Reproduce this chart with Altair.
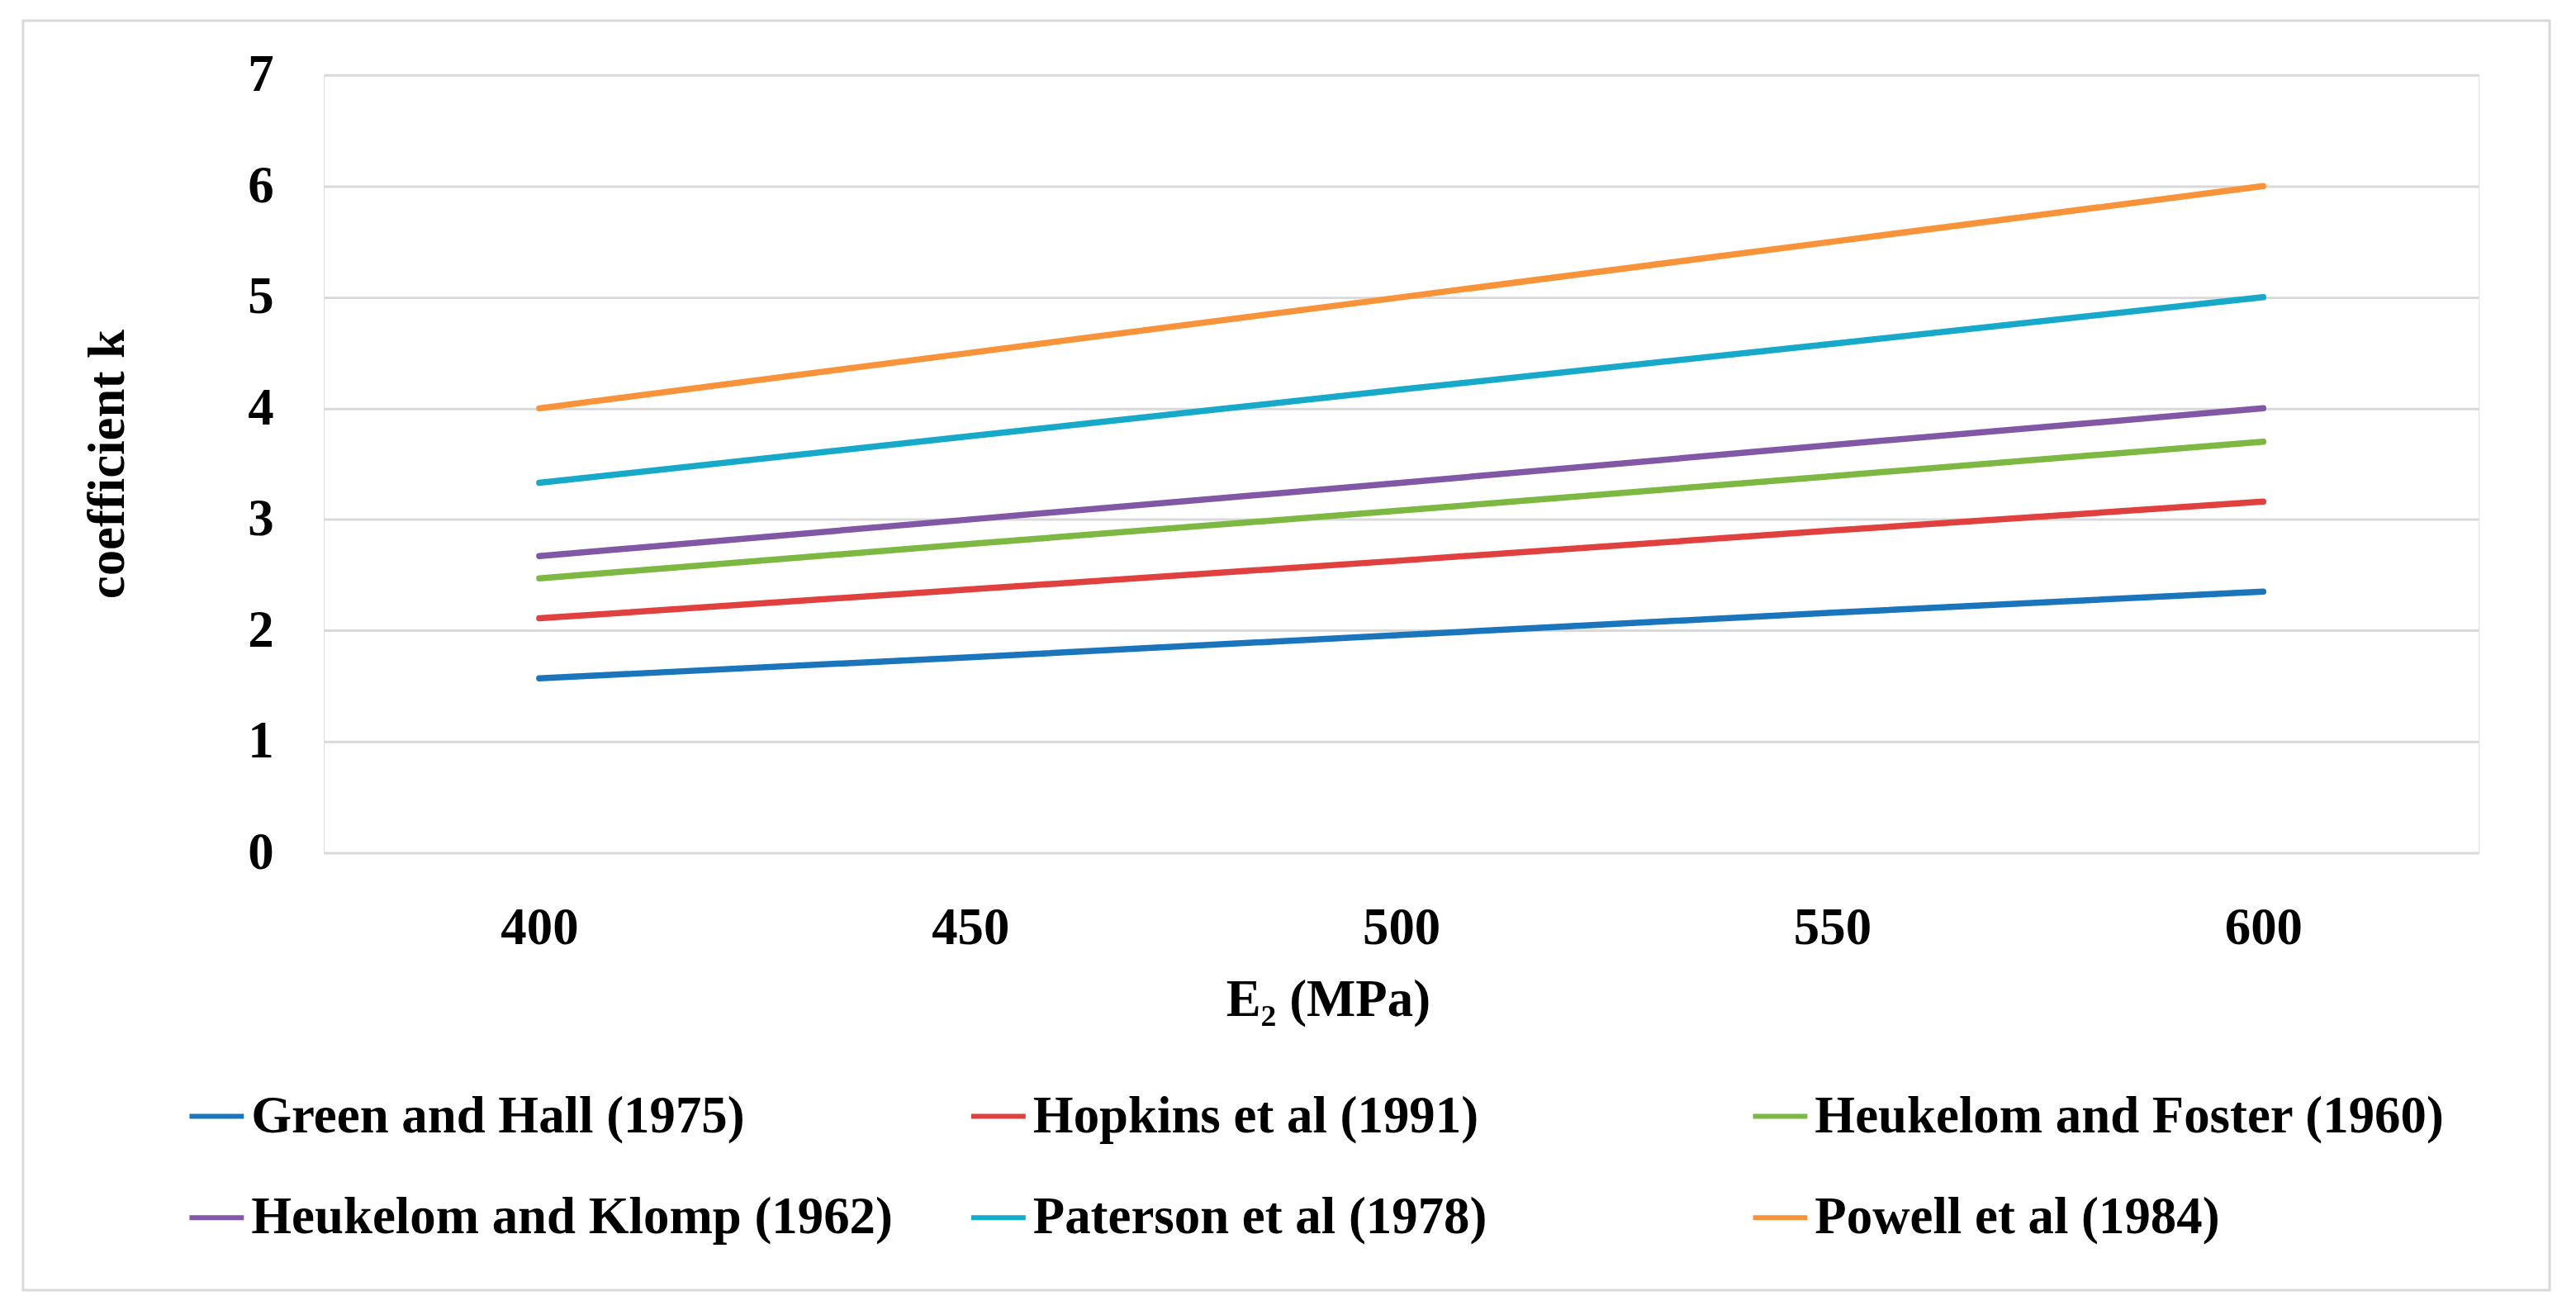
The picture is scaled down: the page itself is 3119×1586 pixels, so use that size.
import altair as alt
import pandas as pd

e2 = [400, 450, 500, 550, 600]
series_names = [
    "Green and Hall (1975)",
    "Hopkins et al (1991)",
    "Heukelom and Foster (1960)",
    "Heukelom and Klomp (1962)",
    "Paterson et al (1978)",
    "Powell et al (1984)",
]
green_hall = [1.57, 1.76, 1.96, 2.16, 2.35]
hopkins = [2.11, 2.37, 2.63, 2.90, 3.16]
heukelom_foster = [2.47, 2.78, 3.08, 3.39, 3.70]
heukelom_klomp = [2.67, 3.00, 3.33, 3.67, 4.00]
paterson = [3.33, 3.75, 4.17, 4.58, 5.00]
powell = [4.00, 4.50, 5.00, 5.50, 6.00]
colors = ["#1B75BC", "#E0413E", "#7DB843", "#8257A5", "#16A9C9", "#F9933A"]

all_vals = [green_hall, hopkins, heukelom_foster, heukelom_klomp, paterson, powell]
rows = []
for name, vals in zip(series_names, all_vals):
    for x, v in zip(e2, vals):
        rows.append({"E2": x, "k": v, "series": name})
df = pd.DataFrame(rows)

FONT = "Liberation Serif"
FS = 63
W, H = 2616, 944

lines = alt.Chart(df).mark_line(strokeWidth=7.5, strokeCap="round").encode(
    x=alt.X("E2:Q",
            scale=alt.Scale(domain=[375, 625], nice=False, zero=False),
            axis=alt.Axis(values=e2, title="E₂ (MPa)", grid=False, domain=False,
                          ticks=False, tickSize=0, labelPadding=60,
                          labelFont=FONT, labelFontSize=FS, labelFontWeight="bold",
                          labelColor="#000000", titleFont=FONT, titleFontSize=FS,
                          titleFontWeight="bold", titleColor="#000000",
                          titleX=1219, titleY=198, titleBaseline="alphabetic")),
    y=alt.Y("k:Q",
            scale=alt.Scale(domain=[0, 7], nice=False),
            axis=alt.Axis(values=[0, 1, 2, 3, 4, 5, 6, 7], title="coefficient k",
                          grid=True, gridColor="#D9D9D9", gridWidth=3,
                          domain=False, ticks=False, tickSize=0, labelPadding=61,
                          labelFont=FONT, labelFontSize=FS, labelFontWeight="bold",
                          labelColor="#000000", titleFont=FONT, titleFontSize=FS,
                          titleFontWeight="bold", titleColor="#000000",
                          titleAngle=270, titleX=-243, titleY=472,
                          titleBaseline="alphabetic", titleAlign="center")),
    color=alt.Color("series:N",
                    scale=alt.Scale(domain=series_names, range=colors),
                    sort=series_names,
                    legend=alt.Legend(title=None, orient="none", legendX=-166,
                                      legendY=1228, direction="horizontal",
                                      columns=3, gridAlign="all", columnPadding=83,
                                      rowPadding=55, symbolType="stroke",
                                      symbolSize=4356, symbolStrokeWidth=6,
                                      labelOffset=6, labelLimit=3000,
                                      labelFont=FONT, labelFontSize=FS,
                                      labelFontWeight="bold", labelColor="#000000")),
)

frame = alt.Chart(pd.DataFrame({"a": [0]})).mark_rect(
    fill=None, stroke="#D9D9D9", strokeWidth=3
).encode(
    x=alt.value(-365), x2=alt.value(2702), y=alt.value(-66), y2=alt.value(1475)
)

chart = alt.layer(frame, lines).properties(
    width=W, height=H,
    autosize=alt.AutoSizeParams(type="none"),
    padding={"left": 385, "top": 81, "right": 110, "bottom": 553},
).configure_view(stroke=None).configure(background="white")

chart.save("out.html", embed_options={"renderer": "svg", "actions": False})
